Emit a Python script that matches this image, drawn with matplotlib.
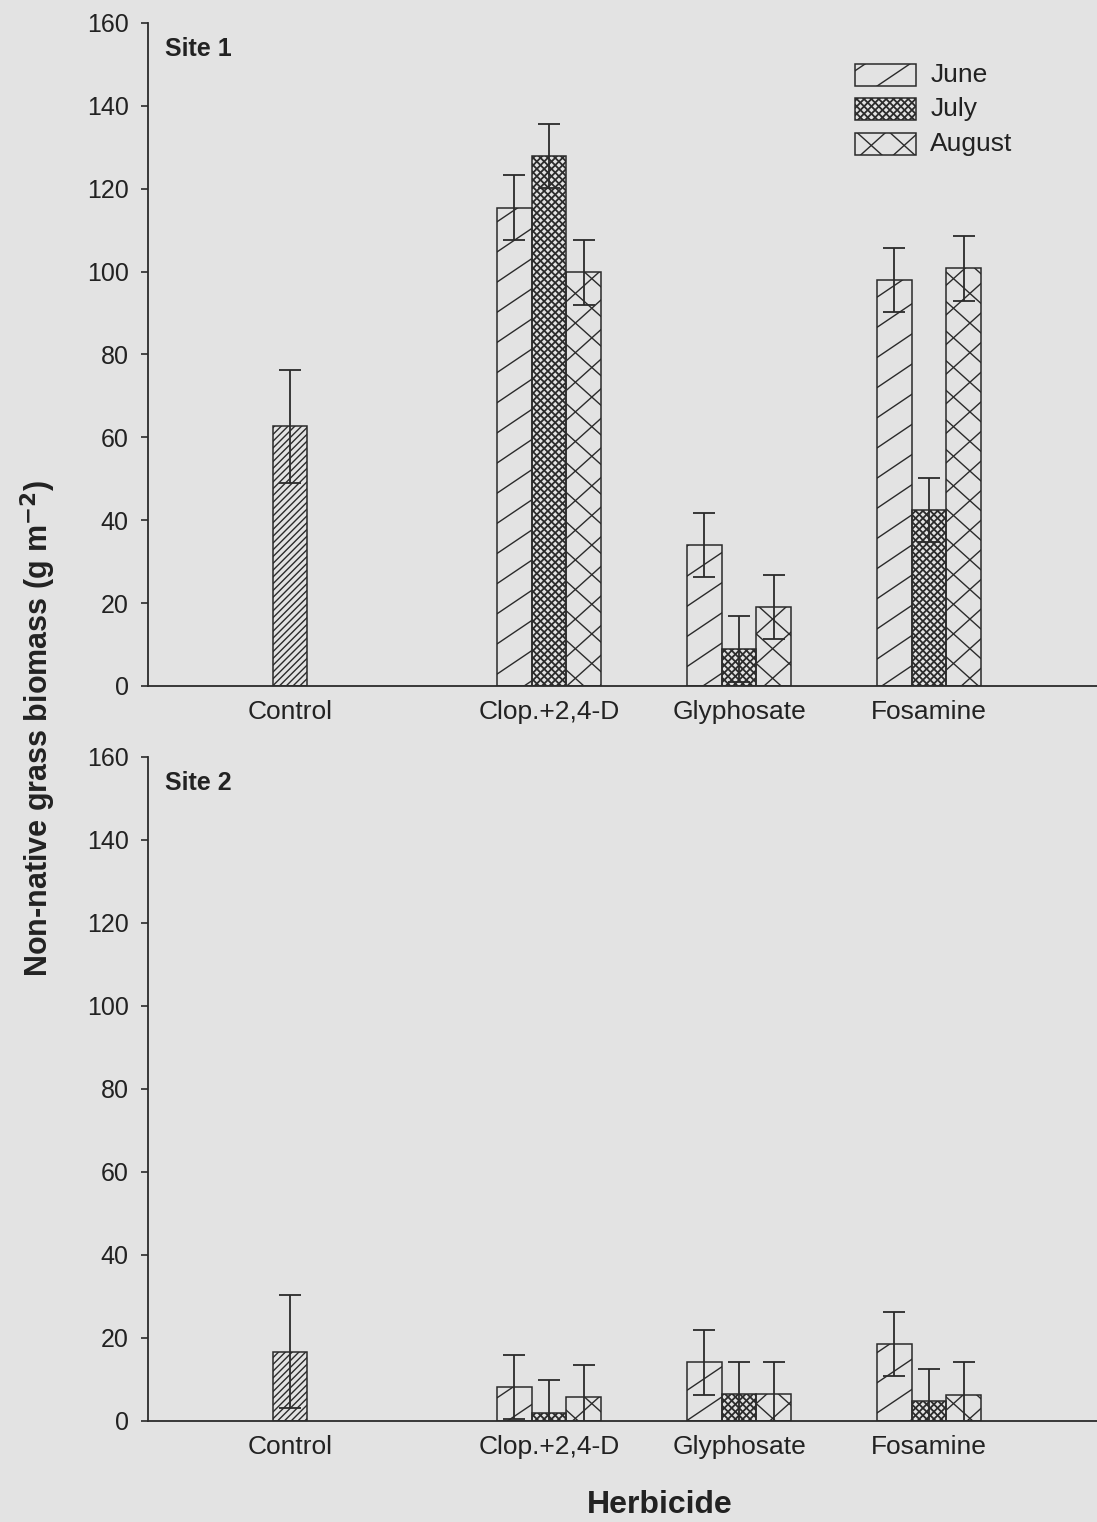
import numpy as np
import matplotlib
matplotlib.use("Agg")
import matplotlib.pyplot as plt
from matplotlib.patches import Rectangle
from matplotlib.collections import LineCollection

matplotlib.rcParams['font.family'] = ['Liberation Sans', 'DejaVu Sans']

# ---- data ----
herbicides = ["Control", "Clop.+2,4-D", "Glyphosate", "Fosamine"]
months = ["June", "July", "August"]

site1_june = [62.7, 115.4, 34.0, 98.0]
site1_july = [np.nan, 127.9, 8.9, 42.5]
site1_aug = [np.nan, 99.8, 19.1, 100.8]
site1_june_err = [13.6, 7.8, 7.7, 7.7]
site1_july_err = [np.nan, 7.8, 8.0, 7.7]
site1_aug_err = [np.nan, 7.8, 7.8, 7.8]

site2_june = [16.7, 8.2, 14.1, 18.6]
site2_july = [np.nan, 2.0, 6.4, 4.7]
site2_aug = [np.nan, 5.8, 6.6, 6.3]
site2_june_err = [13.6, 7.8, 7.8, 7.7]
site2_july_err = [np.nan, 7.8, 7.9, 7.7]
site2_aug_err = [np.nan, 7.7, 7.7, 7.8]

# ---- layout / style ----
group_pos = np.array([0.637, 2.0, 3.0, 4.0])
bar_w = 0.182
ink = "#2b2b2b"
txt = "#222222"
paper = "#e3e3e3"

# hatch styles: list of (angle deg, perpendicular spacing px, linewidth pt)
hatch_control = [(45, 4.8, 1.0)]
hatch_june = [(34, 25.0, 1.0)]
hatch_july = [(45, 5.2, 1.3), (-45, 5.2, 1.3)]
hatch_aug = [(42, 22.0, 1.0), (-42, 22.0, 1.0)]
month_hatch = [hatch_june, hatch_july, hatch_aug]


def hatch_patch(ax, patch, style):
    """Draw hatch lines in pixel space, clipped to the patch."""
    bb = patch.get_window_extent()
    cx, cy = (bb.x0 + bb.x1) / 2, (bb.y0 + bb.y1) / 2
    R = np.hypot(bb.width, bb.height) / 2 + 2
    inv = patch.get_data_transform().inverted()
    for ang, sp, lw in style:
        a = np.deg2rad(ang)
        d = np.array([np.cos(a), np.sin(a)])
        n = np.array([-np.sin(a), np.cos(a)])
        # anchor phase to global origin so patterns line up
        c_off = cx * n[0] + cy * n[1]
        k0 = np.floor((c_off - R) / sp)
        k1 = np.ceil((c_off + R) / sp)
        segs = []
        for k in np.arange(k0, k1 + 1):
            off = k * sp - c_off
            p = np.array([cx, cy]) + n * off
            seg = np.array([p - d * R, p + d * R])
            segs.append(inv.transform(seg))
        lc = LineCollection(segs, colors=ink, linewidths=lw,
                            transform=patch.get_data_transform(), zorder=2)
        ax.add_collection(lc, autolim=False)
        lc.set_clip_path(patch)


fig = plt.figure(figsize=(10.97, 15.22), dpi=100)
fig.patch.set_facecolor(paper)

ax1 = fig.add_axes([0.1349, 0.5493, 0.8651, 0.4356])
ax2 = fig.add_axes([0.1349, 0.0664, 0.8651, 0.4363])

panels = [
    (ax1, "Site 1",
     [site1_june, site1_july, site1_aug],
     [site1_june_err, site1_july_err, site1_aug_err]),
    (ax2, "Site 2",
     [site2_june, site2_july, site2_aug],
     [site2_june_err, site2_july_err, site2_aug_err]),
]

for ax, title, vals, errs in panels:
    ax.set_facecolor("none")
    ax.set_xlim(-0.1105, 4.884)
    ax.set_ylim(0, 160)
    for s in ["top", "right"]:
        ax.spines[s].set_visible(False)
    for s in ["left", "bottom"]:
        ax.spines[s].set_color(ink)
        ax.spines[s].set_linewidth(1.3)
    ax.set_yticks(np.arange(0, 161, 20))
    ax.tick_params(axis="y", direction="out", length=5, width=1.2,
                   color=ink, labelsize=18, pad=9, labelcolor=txt)
    ax.set_xticks(group_pos)
    ax.set_xticklabels(herbicides)
    ax.tick_params(axis="x", length=0, labelsize=19, pad=10,
                   labelcolor=txt)

    bars_to_hatch = []
    for m in range(3):
        offs = (m - 1) * bar_w
        v = np.array(vals[m], dtype=float)
        e = np.array(errs[m], dtype=float)
        for i in range(len(herbicides)):
            if np.isnan(v[i]):
                continue
            x = group_pos[i] + (0 if i == 0 else offs)
            bc = ax.bar(x, v[i], width=bar_w, facecolor="none",
                        edgecolor=ink, linewidth=1.1, zorder=3)
            style = hatch_control if i == 0 else month_hatch[m]
            bars_to_hatch.append((bc.patches[0], style))
            ax.errorbar(x, v[i], yerr=e[i], fmt="none", ecolor=ink,
                        elinewidth=1.3, capsize=8, capthick=1.3, zorder=4)
    fig.canvas.draw()
    for p, st in bars_to_hatch:
        hatch_patch(ax, p, st)

    ax.text(0.018, 0.961, title, transform=ax.transAxes, fontsize=18,
            fontweight="bold", va="center", ha="left", color=txt)

# legend, drawn by hand so the custom hatches show
leg_x = 0.745
leg_w = 0.0643
leg_h = 0.033
leg_rows = [0.921, 0.870, 0.818]
for m, name in enumerate(months):
    r = Rectangle((leg_x, leg_rows[m] - leg_h / 2), leg_w, leg_h,
                  transform=ax1.transAxes, facecolor="none",
                  edgecolor=ink, linewidth=1.1, zorder=3)
    ax1.add_patch(r)
    hatch_patch(ax1, r, month_hatch[m])
    ax1.text(leg_x + leg_w + 0.015, leg_rows[m], name,
             transform=ax1.transAxes, fontsize=19, va="center",
             ha="left", color=txt)

fig.text(38 / 1097, 1 - 728 / 1522,
         "Non-native grass biomass (g m$^{\\mathbf{-2}}$)",
         rotation=90, ha="center", va="center", fontsize=22,
         fontweight="bold", color=txt)
fig.text(660 / 1097, 1 - 1505 / 1522, "Herbicide", ha="center",
         va="center", fontsize=23, fontweight="bold", color=txt)

fig.savefig("out.png", dpi=100, facecolor=paper)
